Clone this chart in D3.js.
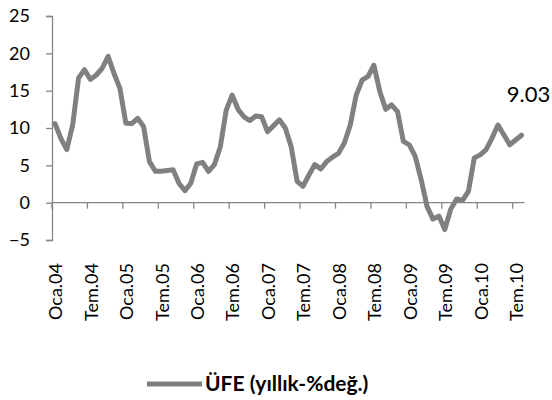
<!DOCTYPE html>
<html>
<head>
<meta charset="utf-8">
<script src="https://cdn.jsdelivr.net/npm/d3@7"></script>
<style>
  html, body { margin: 0; padding: 0; background: #fff; }
  svg { display: block; font-family: Lato, "Open Sans", sans-serif; }
</style>
</head>
<body>
<div id="chart"></div>
<script>
// ÜFE yıllık % değişim, Oca.04 - Ağu.10 (monthly)
const tickLabels = ["Oca.04", "Tem.04", "Oca.05", "Tem.05", "Oca.06", "Tem.06", "Oca.07",
  "Tem.07", "Oca.08", "Tem.08", "Oca.09", "Tem.09", "Oca.10", "Tem.10"];
const ufe = [
  10.6, 8.6, 7.1, 10.4, 16.7, 17.8, 16.5, 17.1, 18.0, 19.6, 17.3, 15.3,
  10.65, 10.6, 11.3, 10.2, 5.5, 4.2, 4.2, 4.3, 4.4, 2.6, 1.6, 2.6,
  5.2, 5.4, 4.2, 5.1, 7.5, 12.4, 14.4, 12.5, 11.5, 11.0, 11.6, 11.5,
  9.5, 10.3, 11.1, 10.0, 7.5, 2.85, 2.2, 3.7, 5.1, 4.5, 5.5, 6.1,
  6.6, 8.0, 10.4, 14.4, 16.4, 16.9, 18.4, 14.9, 12.5, 13.1, 12.2, 8.2,
  7.75, 6.2, 3.1, -0.5, -2.2, -1.8, -3.6, -0.9, 0.5, 0.3, 1.5, 6.0,
  6.4, 7.1, 8.65, 10.4, 9.1, 7.75, 8.4, 9.03
];
const yTicks = [-5, 0, 5, 10, 15, 20, 25];
const seriesName = "ÜFE (yıllık-%değ.)";
const lastLabel = "9.03";

const W = 552, H = 400;
const axisColor = "#868686", lineColor = "#808080";

const svg = d3.select("#chart").append("svg")
  .attr("width", W).attr("height", H);

const x = d3.scaleBand().domain(d3.range(ufe.length)).range([52, 524.5]).paddingInner(0).paddingOuter(0);
const cx = (i) => x(i) + x.bandwidth() / 2;
const y = d3.scaleLinear().domain([-5, 25]).range([240, 16]);

// y axis
const gy = svg.append("g").attr("transform", `translate(${x.range()[0]},0)`)
  .call(d3.axisLeft(y).tickValues(yTicks).tickSize(6).tickPadding(16).tickFormat(d3.format("d")));
gy.select(".domain").attr("stroke", axisColor).attr("stroke-width", 1.3);
gy.selectAll(".tick line").attr("stroke", axisColor).attr("stroke-width", 1.3);
gy.selectAll(".tick text").attr("font-size", 18).attr("fill", "#000").attr("font-family", "Lato");

// x axis at zero
const gx = svg.append("g").attr("transform", `translate(0,${y(0)})`);
gx.append("line").attr("x1", x.range()[0]).attr("x2", x.range()[1])
  .attr("stroke", axisColor).attr("stroke-width", 1.3);
gx.selectAll("line.tk").data(tickLabels).join("line").attr("class", "tk")
  .attr("x1", (d, k) => x(k * 6)).attr("x2", (d, k) => x(k * 6))
  .attr("y1", 0).attr("y2", 6)
  .attr("stroke", axisColor).attr("stroke-width", 1.3);

// rotated category labels
svg.append("g").selectAll("text").data(tickLabels).join("text")
  .attr("transform", (d, k) => `translate(${cx(k * 6) + 1},263) rotate(-90)`)
  .attr("text-anchor", "end").attr("dy", "0.35em")
  .attr("font-size", 18).attr("fill", "#000")
  .text((d) => d);

// series line
const line = d3.line().x((d, i) => cx(i)).y((d) => y(d));
svg.append("path").datum(ufe)
  .attr("fill", "none").attr("stroke", lineColor)
  .attr("stroke-width", 5).attr("stroke-linejoin", "round").attr("stroke-linecap", "round")
  .attr("d", line);

// label on last point
const li = ufe.length - 1;
svg.append("text")
  .attr("x", cx(li) + 7).attr("y", y(ufe[li]) - 33)
  .attr("text-anchor", "middle").attr("font-size", 22).attr("fill", "#000")
  .text(lastLabel);

// legend
const lg = svg.append("g").attr("transform", "translate(147,384)");
lg.append("line").attr("x1", 0).attr("x2", 55).attr("y1", 0).attr("y2", 0)
  .attr("stroke", lineColor).attr("stroke-width", 5);
lg.append("text").attr("x", 58).attr("y", 0).attr("dy", "0.35em")
  .attr("font-size", 21).attr("font-weight", "bold").attr("fill", "#000")
  .text(seriesName);
</script>
</body>
</html>
